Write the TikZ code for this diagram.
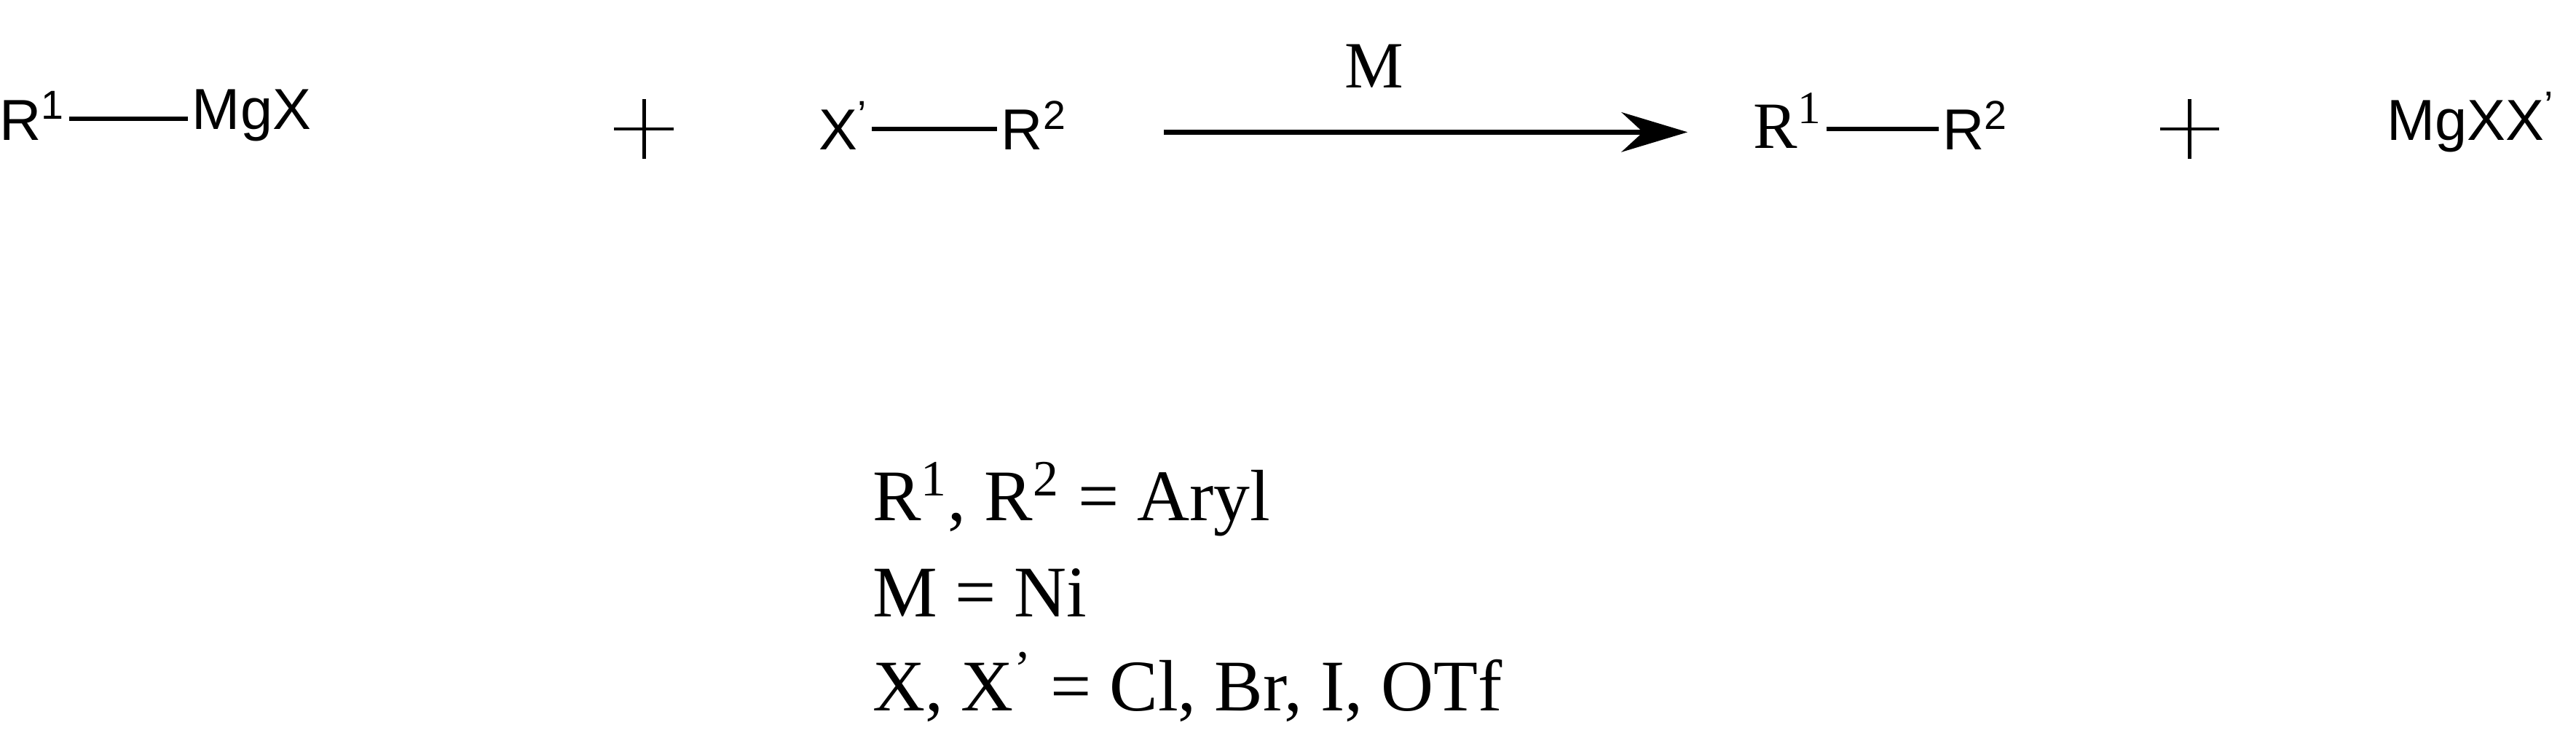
\documentclass[tikz,border=0pt]{standalone}
\usepackage{fontspec}
\setmainfont{Liberation Serif}
\setsansfont{Liberation Sans}
\usetikzlibrary{arrows.meta}
\begin{document}
\begin{tikzpicture}[x=0.5pt,y=-0.5pt,
  sans/.style={font=\sffamily\fontsize{17.5}{20}\selectfont,inner sep=1pt},
  serif/.style={font=\fontsize{20}{22}\selectfont,inner sep=1pt},
  cond/.style={font=\fontsize{22}{24}\selectfont,inner sep=1pt},
  bond/.style={line width=1.4pt},
  plus/.style={line width=1pt}]
\useasboundingbox (0,0) rectangle (1560,453.4);
% reactant 1
\node[sans,anchor=east] (r1) at (42,70) {R\textsuperscript{1}};
\node[sans,anchor=west] (mgx) at (114,70) {MgX};
\draw[bond] ([yshift=-1pt]r1.east) -- ([yshift=-1pt]r1.east -| mgx.west);
% plus 1
\coordinate (p1) at (390,78);
\draw[plus] ([xshift=-9pt]p1) -- ([xshift=9pt]p1) ([yshift=-9pt]p1) -- ([yshift=9pt]p1);
% reactant 2
\node[sans,anchor=east] (xp) at (528,76) {X\textsuperscript{'}};
\node[sans,anchor=west] (r2) at (604,76) {R\textsuperscript{2}};
\draw[bond] ([yshift=-1pt]xp.east) -- ([yshift=-1pt]xp.east -| r2.west);
% arrow
\coordinate (a1) at (705,80);
\coordinate (a2) at (1022,80);
\draw[line width=1.6pt,-{Stealth[length=20,width=12]}] (a1) -- (a2);
\node[serif] (m) at (832,40) {M};
% product
\node[serif,anchor=east] (pr1) at (1106,73) {R\textsuperscript{1}};
\node[sans,anchor=west] (pr2) at (1174,76) {R\textsuperscript{2}};
\draw[bond] ([yshift=-1pt]pr2.west -| pr1.east) -- ([yshift=-1pt]pr2.west);
% plus 2
\coordinate (p2) at (1326,78);
\draw[plus] ([xshift=-9pt]p2) -- ([xshift=9pt]p2) ([yshift=-9pt]p2) -- ([yshift=9pt]p2);
\node[sans,anchor=west] (mgxx) at (1443,74) {MgXX\textsuperscript{'}};
% conditions
\node[cond,anchor=west] (c1) at (526,302) {R\textsuperscript{1}, R\textsuperscript{2} = Aryl};
\node[cond,anchor=west] (c2) at (526,359) {M = Ni};
\node[cond,anchor=west] (c3) at (526,416) {X, X\textsuperscript{'} = Cl, Br, I, OTf};
\end{tikzpicture}
\end{document}
